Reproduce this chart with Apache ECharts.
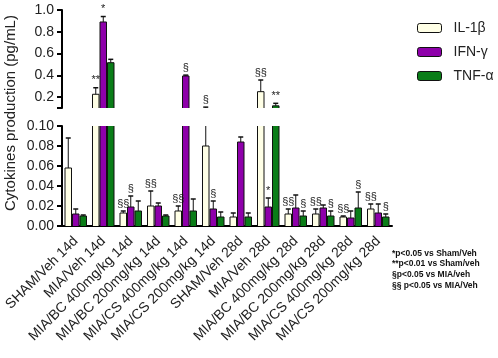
<!DOCTYPE html>
<html>
<head>
<meta charset="utf-8">
<script src="https://cdn.jsdelivr.net/npm/echarts@6/dist/echarts.min.js"></script>
<style>
  html, body { margin: 0; padding: 0; background: #fff; }
  #box { width: 498px; height: 358px; }
</style>
</head>
<body>
<div id="box"></div>
<script>
// 分组名称
var categories = ['SHAM/Veh 14d', 'MIA/Veh 14d', 'MIA/BC 400mg/kg 14d', 'MIA/BC 200mg/kg 14d',
  'MIA/CS 400mg/kg 14d', 'MIA/CS 200mg/kg 14d', 'SHAM/Veh 28d', 'MIA/Veh 28d',
  'MIA/BC 400mg/kg 28d', 'MIA/BC 200mg/kg 28d', 'MIA/CS 400mg/kg 28d', 'MIA/CS 200mg/kg 28d'];

// 均值 和 SEM
var il1b = [0.058, 0.226, 0.013, 0.020, 0.015, 0.080, 0.009, 0.25, 0.012, 0.012, 0.009, 0.017];
var il1bSem = [0.030, 0.06, 0.002, 0.015, 0.005, 0.028, 0.004, 0.107, 0.005, 0.005, 0.001, 0.005];
var ifng = [0.012, 0.89, 0.019, 0.020, 0.394, 0.017, 0.084, 0.019, 0.018, 0.018, 0.008, 0.013];
var ifngSem = [0.005, 0.05, 0.011, 0.003, 0.008, 0.008, 0.005, 0.009, 0.013, 0.003, 0.007, 0.009];
var tnfa = [0.010, 0.516, 0.015, 0.010, 0.015, 0.009, 0.009, 0.12, 0.010, 0.010, 0.018, 0.009];
var tnfaSem = [0.001, 0.031, 0.010, 0.001, 0.012, 0.005, 0.004, 0.023, 0.005, 0.005, 0.016, 0.003];

// 显著性标记
var il1bSig = ['', '**', '§§', '§§', '§§', '§', '', '§§', '§§', '§§', '§§', '§§'];
var ifngSig = ['', '*', '§', '', '§', '§', '', '*', '', '', '', ''];
var tnfaSig = ['', '', '', '', '', '', '', '**', '§', '§', '§', '§'];

var upperTicks = [0.2, 0.4, 0.6, 0.8, 1.0];
var notes = ['*p<0.05 vs Sham/Veh', '**p<0.01 vs Sham/veh', '§p<0.05 vs MIA/veh', '§§ p<0.05 vs MIA/Veh'];

var colors = ['#FFFFE6', '#8E00AA', '#0A7D18'];
var names = ['IL-1β', 'IFN-γ', 'TNF-α'];
var means = [il1b, ifng, tnfa];
var sems = [il1bSem, ifngSem, tnfaSem];
var sigs = [il1bSig, ifngSig, tnfaSig];
var offsets = [-7.5, 0, 7.5];
var bw = 6.5;

var myChart = echarts.init(document.getElementById('box'));

// 误差线 + 柱子边框 + 显著性标记
function errSeries(k, gridIdx) {
  var s = sigs[k];
  return {
    type: 'custom',
    name: names[k],
    xAxisIndex: gridIdx,
    yAxisIndex: gridIdx,
    z: 5,
    silent: true,
    data: means[k].map(function (v, i) { return [i, v, sems[k][i]]; }),
    renderItem: function (params, api) {
      var i = api.value(0), m = api.value(1), e = api.value(2);
      var cs = params.coordSys;
      var p = api.coord([i, m]);
      var x = p[0] + offsets[k];
      var yM = p[1];
      var y0 = api.coord([i, 0])[1];
      var yT = api.coord([i, m + e])[1];
      var top = cs.y, bot = cs.y + cs.height;
      var children = [];
      var st = { stroke: '#111', lineWidth: 1, fill: null };
      // 柱子边框（被截断的一端不画）
      var bTop = Math.max(yM, top), bBot = Math.min(y0, bot);
      if (bTop < bBot) {
        var xl = x - bw / 2, xr = x + bw / 2;
        children.push({ type: 'line', shape: { x1: xl, y1: bTop, x2: xl, y2: bBot }, style: st });
        children.push({ type: 'line', shape: { x1: xr, y1: bTop, x2: xr, y2: bBot }, style: st });
        if (yM >= top) children.push({ type: 'line', shape: { x1: xl, y1: yM, x2: xr, y2: yM }, style: st });
      }
      var y1 = Math.max(yT, top), y2 = Math.min(yM, bot);
      if (y1 < y2) {
        children.push({ type: 'line', shape: { x1: x, y1: y1, x2: x, y2: y2 }, style: st });
      }
      if (yT >= top - 0.5 && yT <= bot) {
        children.push({ type: 'line', shape: { x1: x - 2.5, y1: yT, x2: x + 2.5, y2: yT }, style: { stroke: '#111', lineWidth: 1.5 } });
        if (s[i]) {
          children.push({ type: 'text', style: { text: s[i], x: x, y: yT - 2, align: 'center', verticalAlign: 'bottom', font: '11px Arial', fill: '#222' } });
        }
      }
      return { type: 'group', children: children };
    }
  };
}

var series = [];
[0, 1].forEach(function (g) {
  for (var k = 0; k < 3; k++) {
    series.push({
      type: 'bar',
      name: names[k],
      xAxisIndex: g,
      yAxisIndex: g,
      barWidth: bw,
      barGap: '15%',
      clip: true,
      data: means[k],
      itemStyle: { color: colors[k], borderColor: '#111', borderWidth: 0 }
    });
  }
});
[0, 1].forEach(function (g) {
  for (var k = 0; k < 3; k++) series.push(errSeries(k, g));
});

var option = {
  animation: false,
  legend: {
    data: names.map(function (n, k) {
      return { name: n, itemStyle: { color: colors[k], borderColor: '#111', borderWidth: 1 } };
    }),
    orient: 'vertical',
    left: 412,
    top: 16,
    itemWidth: 24,
    itemHeight: 9,
    itemGap: 10,
    textStyle: { fontSize: 14, color: '#222', fontFamily: 'Arial', padding: [0, 0, 0, 7] }
  },
  grid: [
    { left: 62, top: 10, width: 330, height: 98 },
    { left: 62, top: 126, width: 330, height: 100 }
  ],
  xAxis: [
    { type: 'category', gridIndex: 0, data: categories, show: false },
    {
      type: 'category', gridIndex: 1, data: categories,
      axisLine: { lineStyle: { color: '#000', width: 2 } },
      axisTick: { alignWithLabel: true, length: 5, lineStyle: { color: '#000', width: 2 } },
      axisLabel: { rotate: 45, interval: 0, fontSize: 14, color: '#222', fontFamily: 'Arial', margin: 13 }
    }
  ],
  yAxis: [
    {
      type: 'value', gridIndex: 0, min: 0.1, max: 1.0,
      splitLine: { show: false },
      axisLine: { show: true, lineStyle: { color: '#000', width: 2 } },
      axisTick: { show: true, length: 5, customValues: [0.1].concat(upperTicks), lineStyle: { color: '#000', width: 2 } },
      axisLabel: { customValues: upperTicks, fontSize: 14, color: '#222', fontFamily: 'Arial', formatter: function (v) { return v.toFixed(1); } }
    },
    {
      type: 'value', gridIndex: 1, min: 0, max: 0.1, interval: 0.02,
      splitLine: { show: false },
      axisLine: { show: true, lineStyle: { color: '#000', width: 2 } },
      axisTick: { show: true, length: 5, lineStyle: { color: '#000', width: 2 } },
      axisLabel: { fontSize: 14, color: '#222', fontFamily: 'Arial', formatter: function (v) { return v.toFixed(2); } }
    }
  ],
  graphic: [
    {
      type: 'text', x: 11, y: 113, rotation: Math.PI / 2,
      style: { text: 'Cytokines production (pg/mL)', font: '15px Arial', fill: '#222', align: 'center', verticalAlign: 'middle' }
    },
    {
      type: 'text', left: 392, top: 248,
      style: { text: notes.join('\n'), font: 'bold 8.5px Arial', lineHeight: 10.7, fill: '#111' }
    }
  ],
  series: series
};

myChart.setOption(option);
</script>
</body>
</html>
